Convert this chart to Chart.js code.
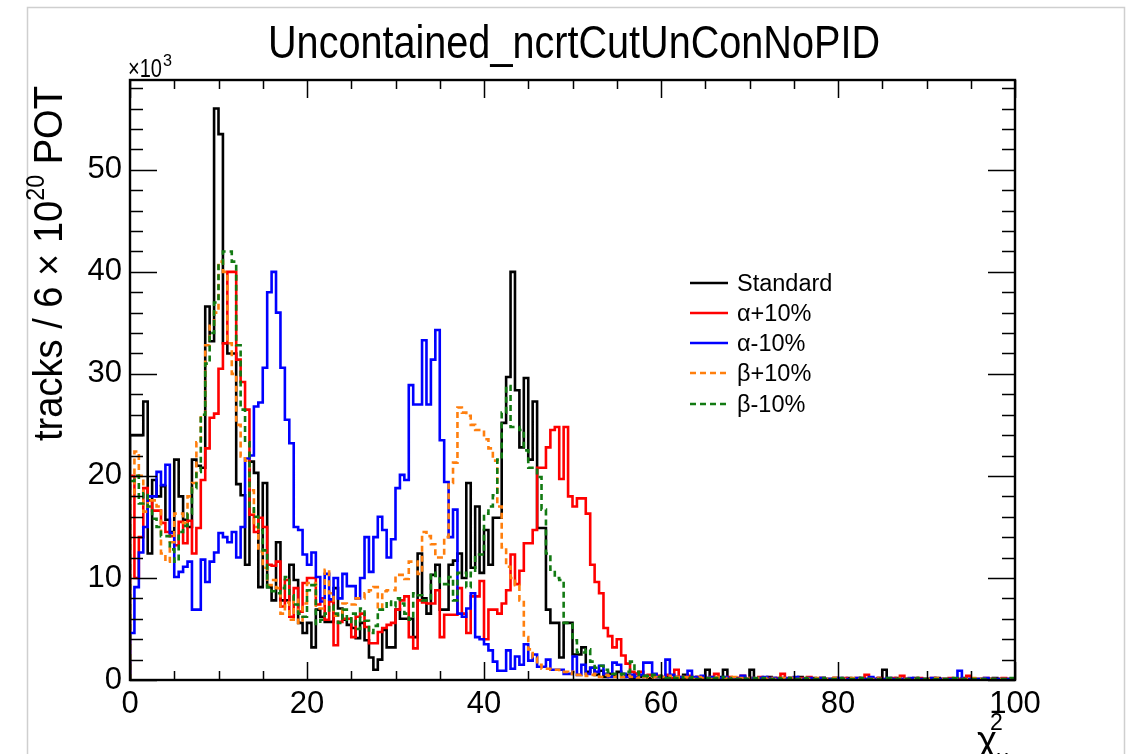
<!DOCTYPE html>
<html>
<head>
<meta charset="utf-8">
<script src="https://cdn.jsdelivr.net/npm/chart.js@4.4.0/dist/chart.umd.min.js"></script>
<style>
  html, body { margin: 0; padding: 0; background: #fff; }
  canvas { display: block; }
</style>
</head>
<body>
<canvas id="hist" width="1132" height="754"></canvas>
<script>
// bin contents in units of 10^3 tracks, 200 bins of width 0.5 from 0 to 100
const binWidth = 0.5;

const standardCounts = [
  24, 24, 24, 27.3, 12.4, 19.6, 18, 19, 15.7, 14.5,
  21.6, 18, 15.7, 15, 21.6, 21, 20.8, 36.6, 33.2, 56,
  53.5, 33, 32, 32, 19.2, 18.1, 11.3, 21.4, 20.3, 9.1,
  19.3, 9.1, 7.8, 13.5, 7.8, 7.8, 11.3, 9.8, 5.6, 4.6,
  5.6, 3.2, 6.9, 6.2, 5.7, 5.7, 9, 7, 5.9, 5.4,
  5.1, 4.1, 5.6, 3.9, 2.2, 1, 2, 4.9, 3.2, 3.2,
  6.9, 6, 6, 6, 4.2, 12.4, 8, 6.5, 10.3, 11.3,
  6.9, 6.9, 11.3, 11.7, 12.4, 10, 19.3, 11, 17, 10.5,
  14.7, 11.3, 15.9, 15.9, 25.2, 29.7, 40, 28.4, 22.8, 29.6,
  21.6, 27.3, 14.9, 14.9, 6.9, 5.6, 5.6, 2.2, 5.6, 5.6,
  2.5, 2.5, 3.2, 0.8, 1.2, 0.5, 0.9, 0.3, 0.6, 0.4,
  0.8, 0.3, 0.5, 0.2, 0.6, 0.3, 0.4, 0.2, 0.5, 0.3,
  0.2, 0.4, 0.1, 0.3, 0.2, 0.5, 0.1, 0.2, 0.3, 0.1,
  1.0, 0.2, 0.1, 0.3, 1.0, 0.2, 0.1, 0.2, 0.3, 0.1,
  1.0, 0.1, 0.2, 0.1, 0.3, 0.2, 0.1, 0.2, 0.1, 0.2,
  0.1, 0.3, 0.1, 0.1, 0.2, 0.1, 0.2, 0.1, 0.1, 0.2,
  0.1, 0.1, 0.2, 0.1, 0.1, 0.2, 0.1, 0.1, 0.1, 0.2,
  1.0, 0.1, 0.1, 0.2, 0.1, 0.1, 0.1, 0.2, 0.1, 0.1,
  0.1, 0.1, 0.2, 0.1, 0.1, 0.1, 0.1, 0.1, 0.2, 0.1,
  0.1, 0.1, 0.1, 0.1, 0.1, 0.2, 0.1, 0.1, 0.1, 0.1
];

const alphaUpCounts = [
  20, 10, 14, 18.8, 17.6, 16.6, 16.6, 15.4, 14.5, 14.1,
  13.2, 15.5, 13.4, 15.6, 12.4, 14.9, 19.6, 22.7, 25.7, 26.1,
  30.5, 33, 40, 40, 31.4, 29.2, 26.5, 16.2, 14.5, 15.9,
  15, 11.3, 11.2, 11.6, 7.2, 9.8, 6.2, 9, 6.7, 9.5,
  10, 10, 7.4, 8, 5.9, 7.7, 3.4, 5.7, 6, 6,
  4.2, 6.2, 6.5, 5.2, 3.6, 3.6, 4.7, 5.1, 5.4, 5.6,
  6.9, 7.8, 8.2, 4.2, 3.1, 7.8, 7.6, 7.5, 7.5, 8.8,
  4.2, 6.4, 6.4, 6.4, 9, 6.5, 4.6, 8.2, 8.2, 9.7,
  4, 6.9, 6.9, 6.5, 7.5, 8.8, 12.3, 9.4, 10.7, 13.4,
  13.4, 14.7, 20.8, 20.8, 22.8, 24.5, 24.8, 19.7, 24.8, 18,
  17, 17.8, 17.8, 16.3, 11.3, 9.6, 8.5, 5.1, 4.3, 3.2,
  4, 2.4, 1.6, 0.8, 0.6, 0.8, 0.3, 0.5, 0.3, 0.4,
  0.3, 0.5, 0.2, 1.0, 0.3, 0.2, 0.4, 0.1, 0.3, 0.2,
  0.2, 0.3, 0.6, 0.1, 0.2, 0.3, 0.1, 0.2, 0.4, 0.1,
  0.2, 0.1, 0.3, 0.1, 0.2, 0.1, 0.2, 0.6, 0.1, 0.2,
  0.1, 0.2, 0.1, 0.3, 0.1, 0.1, 0.2, 0.1, 0.1, 0.2,
  0.1, 0.2, 0.1, 0.1, 0.2, 0.1, 0.5, 0.1, 0.1, 0.2,
  0.1, 0.1, 0.2, 0.1, 0.4, 0.1, 0.1, 0.1, 0.2, 0.1,
  0.1, 0.2, 0.1, 0.1, 0.1, 0.2, 0.1, 0.1, 0.1, 0.4,
  0.1, 0.1, 0.1, 0.2, 0.1, 0.1, 0.1, 0.2, 0.1, 0.1
];

const alphaDownCounts = [
  4.6, 9.1, 12.5, 15, 18, 18, 20.4, 19.1, 21.1, 14.4,
  10.1, 10.6, 11.1, 11.6, 6.9, 6.9, 11.8, 9.6, 11.6, 12.5,
  14.4, 14, 13.5, 14.5, 12, 15, 21.7, 22, 26.8, 27.2,
  30.6, 38, 40, 36, 30.6, 25.5, 23.2, 15, 14.7, 12.3,
  11.3, 12.5, 10.1, 7.7, 10.4, 7.9, 10, 8, 10.4, 9.2,
  9.2, 8, 10, 14, 10.6, 14, 16, 14.7, 12, 13.8,
  18.8, 20.1, 19.6, 28.9, 27, 27, 33.3, 27, 31.4, 34.3,
  23.5, 19.4, 14, 16.7, 6.5, 6.2, 7, 8.5, 4.2, 4,
  3.5, 2.9, 1.8, 0.9, 0.9, 2.9, 1.1, 2.3, 1.5, 3.5,
  1.9, 2.5, 1.3, 1.3, 2, 1, 1, 1, 0.6, 0.6,
  2.3, 0.5, 1.5, 0.6, 1.2, 0.8, 1.4, 0.6, 0.3, 1.7,
  1.5, 0.6, 0.3, 0.5, 0.3, 0.5, 1.7, 1.7, 0.6, 0.3,
  0.3, 2, 0.5, 0.3, 0.3, 0.3, 0.9, 0.3, 0.2, 0.4,
  0.2, 0.3, 0.1, 0.2, 0.3, 0.1, 0.2, 0.1, 0.4, 0.1,
  0.2, 0.1, 0.2, 0.3, 0.1, 0.2, 0.1, 0.1, 0.2, 0.1,
  0.3, 0.1, 0.1, 0.2, 0.1, 0.1, 0.2, 0.1, 0.1, 0.1,
  0.2, 0.1, 0.1, 0.1, 0.2, 0.1, 0.1, 0.3, 0.1, 0.1,
  0.1, 0.2, 0.1, 0.1, 0.1, 0.1, 0.2, 0.1, 0.1, 0.1,
  0.1, 0.2, 0.1, 0.1, 0.1, 0.1, 0.1, 0.9, 0.1, 0.1,
  0.1, 0.1, 0.1, 0.2, 0.1, 0.1, 0.1, 0.1, 0.1, 0.1
];

const betaUpCounts = [
  18, 22.4, 20, 16.5, 17.6, 17.6, 17, 12.4, 11.6, 13.5,
  16.3, 16.3, 15.4, 18, 19.3, 23.3, 26, 32.8, 34.7, 36,
  41, 40, 33, 30, 25, 21.9, 21.5, 18.6, 15, 12.6,
  11, 9.3, 9.8, 9, 6.5, 7.6, 5.9, 8, 5.6, 7.5,
  9.5, 9.5, 7, 7, 10.8, 8.5, 6.3, 6.5, 7.5, 7.4,
  7.4, 8, 8, 8.5, 8.8, 9.1, 7, 8.7, 8.8, 8.8,
  10.3, 10.3, 9.9, 11.6, 11.6, 10.4, 14.5, 14.1, 13.3, 12,
  12, 14, 19.3, 21.3, 26.7, 26.2, 25.9, 25, 24.5, 24.5,
  23.6, 22.7, 21.5, 17, 13, 11.1, 10, 9.3, 7.8, 4.2,
  3, 2.2, 1.5, 1.1, 1.1, 1, 1, 0.8, 0.8, 0.6,
  0.8, 0.5, 0.6, 0.4, 0.5, 0.6, 0.3, 0.5, 0.4, 0.3,
  0.5, 0.3, 0.4, 0.3, 0.2, 0.4, 0.3, 0.2, 0.3, 0.2,
  0.3, 0.2, 0.4, 0.3, 0.2, 0.3, 0.2, 0.1, 0.3, 0.2,
  0.2, 0.1, 0.3, 0.2, 0.1, 0.2, 0.3, 0.1, 0.2, 0.1,
  0.2, 0.1, 0.2, 0.1, 0.2, 0.1, 0.1, 0.2, 0.1, 0.2,
  0.1, 0.1, 0.2, 0.1, 0.1, 0.2, 0.1, 0.1, 0.1, 0.2,
  0.1, 0.1, 0.1, 0.2, 0.1, 0.1, 0.1, 0.1, 0.2, 0.1,
  0.1, 0.1, 0.1, 0.1, 0.2, 0.1, 0.1, 0.1, 0.1, 0.1,
  0.1, 0.1, 0.2, 0.1, 0.1, 0.1, 0.1, 0.1, 0.1, 0.1,
  0.2, 0.1, 0.1, 0.1, 0.1, 0.1, 0.1, 0.1, 0.1, 0.1
];

const betaDownCounts = [
  19.5, 20, 17.3, 18.3, 17, 15.8, 15, 14.1, 14.1, 12.8,
  11.6, 14.5, 15.1, 16.3, 18.8, 20.4, 26, 31, 34, 37,
  40.8, 42, 42, 41, 32.8, 26.5, 23.3, 17, 16, 14.7,
  12.7, 9.1, 8.7, 8.5, 9, 10.1, 8.3, 7.4, 6.5, 6.2,
  8.8, 9.3, 5.5, 5.9, 6.5, 7.3, 6.5, 5.6, 6.9, 5.7,
  6.5, 5, 7, 5.8, 4.6, 5.3, 6.9, 6.9, 7.7, 7.2,
  8, 7.5, 6.5, 5.9, 8.5, 8.3, 7.8, 7.8, 10.5, 10.2,
  9.4, 9.4, 10.1, 7.8, 10.5, 10.5, 9.1, 10.5, 12.3, 12.3,
  16.3, 17, 18.1, 21.6, 26.2, 28.8, 24.8, 24.8, 24.5, 22.5,
  20.8, 20.8, 19.9, 16.7, 12.4, 10.8, 10, 9.8, 5.6, 5.6,
  3.9, 2.7, 2.7, 3, 1.8, 1.2, 1.4, 1, 0.8, 0.6,
  0.5, 0.6, 0.8, 1.8, 0.8, 0.5, 0.4, 0.3, 0.5, 0.3,
  0.4, 0.2, 0.3, 0.2, 0.3, 0.1, 0.2, 0.3, 0.1, 0.2,
  0.2, 0.1, 0.2, 0.1, 0.3, 0.1, 0.2, 0.1, 0.2, 0.1,
  0.1, 0.2, 0.1, 0.2, 0.1, 0.1, 0.2, 0.1, 0.1, 0.2,
  0.1, 0.1, 0.2, 0.1, 0.1, 0.1, 0.2, 0.1, 0.1, 0.1,
  0.2, 0.1, 0.1, 0.1, 0.1, 0.2, 0.1, 0.1, 0.1, 0.1,
  0.1, 0.2, 0.1, 0.1, 0.1, 0.1, 0.1, 0.1, 0.2, 0.1,
  0.1, 0.1, 0.1, 0.1, 0.1, 0.1, 0.2, 0.1, 0.1, 0.1,
  0.1, 0.1, 0.1, 0.1, 0.1, 0.1, 0.1, 0.1, 0.1, 0.2
];

const seriesNames = ["Standard", "α+10%", "α-10%", "β+10%", "β-10%"];
const seriesColors = ["#000000", "#ff0000", "#0000ff", "#ff7f0e", "#127a12"];
const seriesDashed = [false, false, false, true, true];

const xTickLabels = [0, 20, 40, 60, 80, 100];
const yTickLabels = [0, 10, 20, 30, 40, 50];

const FONT = "'Liberation Sans', Arial, Helvetica, sans-serif";

// histogram outline: start on the axis, one point per low bin edge, close at the last edge
function histPoints(values) {
  const pts = [{ x: 0, y: 0 }];
  values.forEach(function (v, i) {
    pts.push({ x: i * binWidth, y: v });
  });
  pts.push({ x: values.length * binWidth, y: values[values.length - 1] });
  return pts;
}

const allCounts = [standardCounts, alphaUpCounts, alphaDownCounts, betaUpCounts, betaDownCounts];

const datasets = allCounts.map(function (counts, k) {
  return {
    label: seriesNames[k],
    data: histPoints(counts),
    borderColor: seriesColors[k],
    borderWidth: 2.6,
    borderDash: seriesDashed[k] ? [6, 4] : [],
    // "before": keep the value of a point until the next low edge
    stepped: "before",
    pointRadius: 0,
    fill: false,
    order: 5 - k
  };
});

// draws text squeezed/stretched horizontally to a given width (ROOT fonts are narrower)
function fitText(ctx, text, x, y, size, width) {
  ctx.font = size + "px " + FONT;
  const w = ctx.measureText(text).width;
  ctx.save();
  ctx.translate(x, y);
  ctx.scale(width / w, 1);
  ctx.textAlign = "left";
  ctx.fillText(text, 0, 0);
  ctx.restore();
}

const rootFrame = {
  id: "rootFrame",
  afterDatasetsDraw(chart) {
    const ctx = chart.ctx;
    const a = chart.chartArea;
    const xs = chart.scales.x;
    const ys = chart.scales.y;

    ctx.save();
    ctx.strokeStyle = "#000";
    ctx.lineWidth = 1.5;
    ctx.setLineDash([]);
    ctx.beginPath();

    // x ticks, bottom and top, every 5 with major every 20
    for (let v = 0; v <= 100; v += 5) {
      const px = Math.round(xs.getPixelForValue(v)) + 0.5;
      const len = v % 20 === 0 ? 18 : 9;
      ctx.moveTo(px, a.bottom);
      ctx.lineTo(px, a.bottom - len);
      ctx.moveTo(px, a.top);
      ctx.lineTo(px, a.top + len);
    }

    // y ticks, left and right, every 2 with major every 10
    for (let v = 0; v <= 58; v += 2) {
      const py = Math.round(ys.getPixelForValue(v)) + 0.5;
      const len = v % 10 === 0 ? 27 : 13;
      ctx.moveTo(a.left, py);
      ctx.lineTo(a.left + len, py);
      ctx.moveTo(a.right, py);
      ctx.lineTo(a.right - len, py);
    }
    ctx.stroke();

    ctx.lineWidth = 2.4;
    ctx.strokeRect(a.left, a.top, a.right - a.left, a.bottom - a.top);
    ctx.restore();
  },

  afterDraw(chart) {
    const ctx = chart.ctx;
    ctx.save();
    ctx.fillStyle = "#000";
    ctx.textBaseline = "alphabetic";

    // outer canvas border
    ctx.strokeStyle = "#cfcfcf";
    ctx.lineWidth = 1.5;
    ctx.strokeRect(27.5, 7.5, 1097, 760);

    // title
    fitText(ctx, "Uncontained_ncrtCutUnConNoPID", 268, 58, 46, 612);

    // exponent label
    fitText(ctx, "×10", 128, 77, 26, 34);
    fitText(ctx, "3", 163, 66, 17, 9);

    // y axis title, rotated
    ctx.save();
    ctx.translate(62, 441);
    ctx.rotate(-Math.PI / 2);
    const size = 41;
    ctx.font = size + "px " + FONT;
    const p1 = "tracks / 6 × 10";
    const p3 = " POT";
    const w1 = ctx.measureText(p1).width;
    const w3 = ctx.measureText(p3).width;
    ctx.font = Math.round(size * 0.62) + "px " + FONT;
    const w2 = ctx.measureText("20").width;
    const total = w1 + w2 + w3;
    ctx.scale(355 / total, 1);
    ctx.font = size + "px " + FONT;
    ctx.fillText(p1, 0, 0);
    ctx.font = Math.round(size * 0.62) + "px " + FONT;
    ctx.fillText("20", w1, -size * 0.45);
    ctx.font = size + "px " + FONT;
    ctx.fillText(p3, w1 + w2, 0);
    ctx.restore();

    // x axis title
    ctx.font = "38px " + FONT;
    ctx.fillText("χ", 977, 753);
    ctx.font = "23px " + FONT;
    ctx.fillText("2", 990, 730);
    ctx.fillText("μ", 996, 766);

    // legend
    const rowY = [283, 313, 343, 373, 404];
    seriesNames.forEach(function (name, k) {
      ctx.strokeStyle = seriesColors[k];
      ctx.lineWidth = 2.6;
      ctx.setLineDash(seriesDashed[k] ? [6, 4] : []);
      ctx.beginPath();
      ctx.moveTo(690, rowY[k]);
      ctx.lineTo(728, rowY[k]);
      ctx.stroke();
      ctx.setLineDash([]);
      ctx.fillStyle = "#000";
      ctx.font = "23.5px " + FONT;
      ctx.textAlign = "left";
      ctx.fillText(name, 737, rowY[k] + 8);
    });

    ctx.restore();
  }
};

const canvas = document.getElementById("hist");
const ctx = canvas.getContext("2d");

new Chart(ctx, {
  type: "line",
  data: { datasets: datasets },
  options: {
    responsive: false,
    animation: false,
    devicePixelRatio: 1,
    layout: {
      padding: { left: 0, top: 80, right: 117, bottom: 0 }
    },
    plugins: {
      legend: { display: false },
      title: { display: false },
      tooltip: { enabled: false }
    },
    scales: {
      x: {
        type: "linear",
        min: 0,
        max: 100,
        grid: { display: false, drawTicks: false },
        border: { display: false },
        afterFit: function (scale) {
          scale.height = 74;
        },
        afterBuildTicks: function (scale) {
          scale.ticks = xTickLabels.map(function (v) { return { value: v }; });
        },
        ticks: {
          autoSkip: false,
          maxRotation: 0,
          padding: 6,
          color: "#000",
          font: { family: FONT, size: 31 }
        }
      },
      y: {
        type: "linear",
        min: 0,
        max: 58.8,
        grid: { display: false, drawTicks: false },
        border: { display: false },
        afterFit: function (scale) {
          scale.width = 130;
        },
        afterBuildTicks: function (scale) {
          scale.ticks = yTickLabels.map(function (v) { return { value: v }; });
        },
        ticks: {
          autoSkip: false,
          padding: 8,
          color: "#000",
          font: { family: FONT, size: 31 }
        }
      }
    }
  },
  plugins: [rootFrame]
});
</script>
</body>
</html>
